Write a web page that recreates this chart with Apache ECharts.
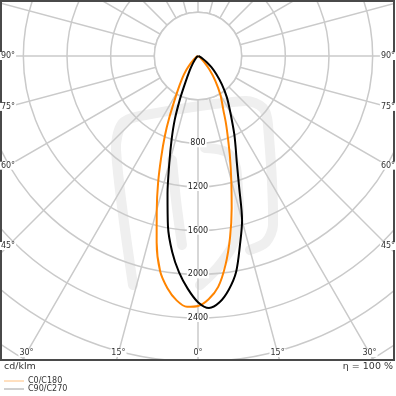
<!DOCTYPE html>
<html><head><meta charset="utf-8">
<script src="https://cdn.jsdelivr.net/npm/echarts@6/dist/echarts.min.js"></script>
<style>html,body{margin:0;padding:0;background:#fff}#c{width:396px;height:396px}</style>
</head><body><div id="c"></div>
<script>
// gamma angles (degrees from nadir)
const gammas = [0,2.5,5,7.5,10,12.5,15,17.5,20,22.5,25,30,35,40,45,50,55,60,70,80,90];
// C0/C180 (orange): left half and right half, cd/klm
const c180 = [2290,2300,2247,2145,2000,1750,1460,1215,985,795,620,380,255,165,95,50,30,15,5,2,0];
const c0   = [2290,2230,2123,1930,1689,1425,1178,975,803,670,552,410,275,165,80,40,22,12,4,1,0];
// C90/C270 (black)
const c270 = [2255,2135,1990,1810,1585,1290,1015,805,625,440,290,150,80,42,24,14,8,4,2,1,0];
const c90  = [2255,2310,2265,2160,2010,1775,1560,1250,1040,900,785,590,460,340,240,160,95,50,12,3,0];
// tick labels
const radialLabels = [800,1200,1600,2000,2400];
const angleLabels = [0,15,30,45,60,75,90];
const seriesNames = ['C0/C180','C90/C270'];

const CX = 198, CY = 56, RMAX = 3600, RPX = 393;
const FONT = 'DejaVu Sans';

function curve(leftVals, rightVals){
  const d = [];
  for (let i = gammas.length-1; i >= 0; i--) d.push([leftVals[i], gammas[i]]);
  for (let i = 1; i < gammas.length; i++) d.push([rightVals[i], 360 - gammas[i]]);
  return d;
}

const chart = echarts.init(document.getElementById('c'), null, {renderer:'canvas'});
const grid = '#cacaca';

const graphics = [];
// watermark
const wm = {stroke:'#efefef', lineWidth:10, fill:'none', lineCap:'round', lineJoin:'round'};
graphics.push({type:'polyline', z:-1, shape:{points:[[133,285],[116,150],[122,124],[140,116],[245,101],[263,108],[268,125],[273,225],[266,242],[250,250]], smooth:0.3}, style:wm});
graphics.push({type:'polyline', z:-1, shape:{points:[[172,160],[176,200],[182,245]], smooth:0.3}, style:wm});
graphics.push({type:'polyline', z:-1, shape:{points:[[205,148],[230,155],[238,190],[236,235],[222,262],[200,285]], smooth:0.4}, style:wm});
// inner white disc
const r400 = 400 / RMAX * RPX;
graphics.push({type:'circle', z:1.5, shape:{cx:CX, cy:CY, r:r400}, style:{fill:'#fff', stroke:grid, lineWidth:1.5}});
// masks outside frame
graphics.push({type:'rect', z:5, shape:{x:0, y:361, width:396, height:35}, style:{fill:'#fff'}});
graphics.push({type:'rect', z:5, shape:{x:395, y:0, width:1, height:396}, style:{fill:'#fff'}});
// angle labels
const L = 8, R = 388, B = 353;
function addAngleLabel(th, side){
  const rad = th*Math.PI/180;
  const sx = Math.sin(rad), cy = Math.cos(rad);
  const tx = sx > 1e-6 ? (CX - L)/sx : Infinity;
  const ty = cy > 1e-6 ? (B - CY)/cy : Infinity;
  const t = Math.min(tx, ty);
  const x = CX + side*t*sx, y = CY + t*cy;
  graphics.push({type:'text', z:12, x:x, y:y, style:{text: th + '°', font:'8px "'+FONT+'"', fill:'#333', align:'center', verticalAlign:'middle', backgroundColor:'#fff', padding:[0,1]}});
}
angleLabels.forEach(th => { addAngleLabel(th, -1); if (th !== 0) addAngleLabel(th, 1); });
// frame
graphics.push({type:'rect', z:10, shape:{x:1, y:1, width:393, height:359}, style:{fill:'none', stroke:'#4a4a4a', lineWidth:2}});
// unit and efficiency
graphics.push({type:'text', z:12, x:4, y:367, style:{text:'cd/klm', font:'9.5px "'+FONT+'"', fill:'#333', align:'left', verticalAlign:'middle'}});
graphics.push({type:'text', z:12, x:393, y:367, style:{text:'η = 100 %', font:'9.5px "'+FONT+'"', fill:'#333', align:'right', verticalAlign:'middle'}});
// legend
const legCols = ['#ffc080','#a0a0a0'];
seriesNames.forEach((n,i) => {
  const y = 381 + i*8;
  graphics.push({type:'line', z:12, shape:{x1:4, y1:y, x2:24, y2:y}, style:{stroke:legCols[i], lineWidth:1}});
  graphics.push({type:'text', z:12, x:28, y:y, style:{text:n, font:'8px "'+FONT+'"', fill:'#333', align:'left', verticalAlign:'middle'}});
});

chart.setOption({
  animation:false,
  backgroundColor:'#fff',
  polar:{center:[CX, CY], radius:RPX},
  angleAxis:{
    type:'value', min:0, max:360, interval:15, startAngle:270, clockwise:true, z:0,
    axisLine:{show:false}, axisTick:{show:false}, axisLabel:{show:false},
    splitLine:{show:true, lineStyle:{color:grid, width:1.5}}
  },
  radiusAxis:{
    type:'value', min:0, max:RMAX, interval:400, z:1,
    axisLine:{show:false}, axisTick:{show:false},
    axisLabel:{show:true, margin:0, align:'center', verticalAlign:'middle', fontSize:8, fontFamily:FONT, color:'#222',
      backgroundColor:'#fff', padding:[0,1],
      formatter: v => radialLabels.includes(v) ? String(v) : ''},
    splitLine:{show:true, lineStyle:{color:grid, width:1.5}}
  },
  series:[
    {name:seriesNames[0], type:'line', coordinateSystem:'polar', data:curve(c180, c0), symbol:'none', smooth:0.3,
      lineStyle:{color:'#ff8400', width:2}, z:3},
    {name:seriesNames[1], type:'line', coordinateSystem:'polar', data:curve(c270, c90), symbol:'none', smooth:0.3,
      lineStyle:{color:'#000', width:2}, z:4}
  ],
  graphic:{elements:graphics}
});
</script></body></html>
